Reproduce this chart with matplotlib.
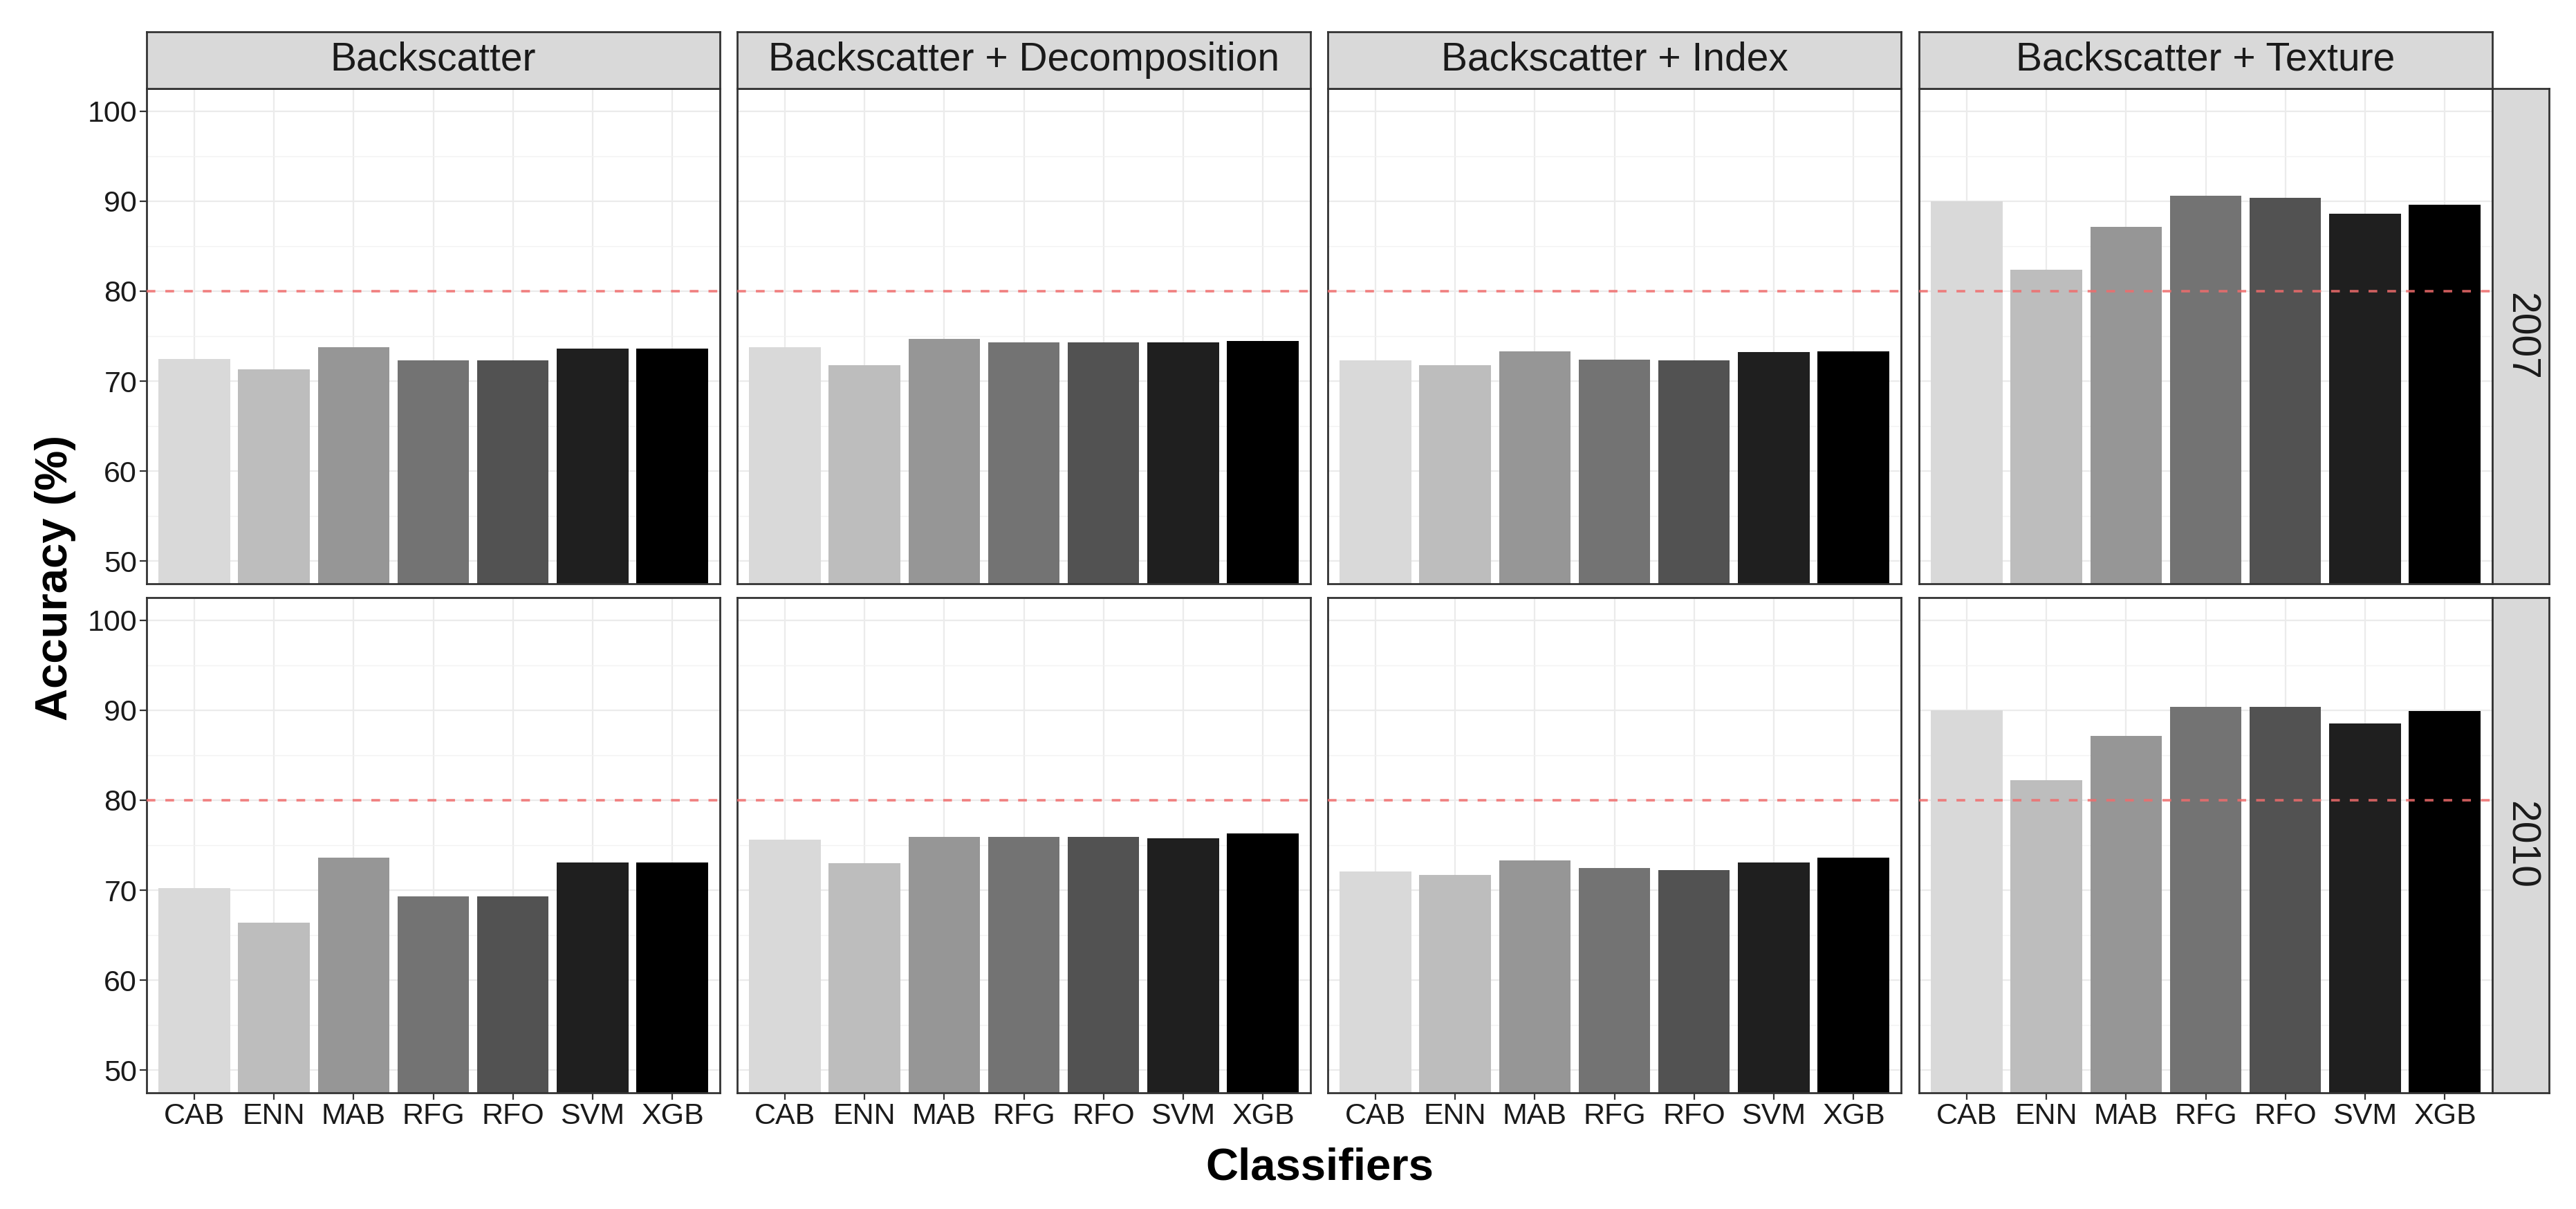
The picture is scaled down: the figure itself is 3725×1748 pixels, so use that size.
import matplotlib
matplotlib.use("Agg")
import matplotlib.pyplot as plt
from matplotlib.ticker import MultipleLocator

plt.rcParams['font.family'] = ['Liberation Sans', 'DejaVu Sans']

# data
classifiers = ['CAB', 'ENN', 'MAB', 'RFG', 'RFO', 'SVM', 'XGB']
feature_sets = ['Backscatter', 'Backscatter + Decomposition',
                'Backscatter + Index', 'Backscatter + Texture']
years = ['2007', '2010']

acc_2007_backscatter = [72.5, 71.3, 73.8, 72.3, 72.3, 73.6, 73.6]
acc_2007_decomposition = [73.8, 71.8, 74.7, 74.3, 74.3, 74.3, 74.5]
acc_2007_index = [72.3, 71.8, 73.3, 72.4, 72.3, 73.2, 73.3]
acc_2007_texture = [90.0, 82.4, 87.1, 90.6, 90.4, 88.6, 89.6]

acc_2010_backscatter = [70.2, 66.4, 73.6, 69.3, 69.3, 73.1, 73.1]
acc_2010_decomposition = [75.6, 73.0, 75.9, 75.9, 75.9, 75.8, 76.3]
acc_2010_index = [72.1, 71.7, 73.3, 72.5, 72.2, 73.1, 73.6]
acc_2010_texture = [90.0, 82.2, 87.1, 90.4, 90.4, 88.5, 89.9]

threshold = 80

bar_colors = ['#d9d9d9', '#bdbdbd', '#969696', '#737373',
              '#525252', '#1f1f1f', '#000000']

rows = [
    [acc_2007_backscatter, acc_2007_decomposition, acc_2007_index, acc_2007_texture],
    [acc_2010_backscatter, acc_2010_decomposition, acc_2010_index, acc_2010_texture],
]

W, H = 3725, 1748
fig = plt.figure(figsize=(W / 100, H / 100), dpi=100)


def box(x0, y0, x1, y1):
    # pixel box (top-left origin) -> figure fraction rect
    return [x0 / W, 1 - y1 / H, (x1 - x0) / W, (y1 - y0) / H]


border = '#333333'
col_left = [212, 1066, 1920, 2775]
panel_w = 829
strip_top, strip_bot = 46, 128
row_tops = [128, 864]
panel_h = 716
rstrip_w = 82

x = list(range(1, len(classifiers) + 1))

for r in range(2):
    for c in range(4):
        x0 = col_left[c]
        y0 = row_tops[r]
        ax = fig.add_axes(box(x0, y0, x0 + panel_w, y0 + panel_h))
        ax.bar(x, rows[r][c], width=0.9, color=bar_colors, zorder=2)
        ax.axhline(threshold, color='#f06c6c', alpha=0.85, lw=2.6,
                   dashes=(3.5, 4), zorder=3)
        ax.set_xlim(0.4, 7.6)
        ax.set_ylim(47.5, 102.5)
        ax.yaxis.set_major_locator(MultipleLocator(10))
        ax.yaxis.set_minor_locator(MultipleLocator(5))
        ax.set_xticks(x)
        ax.grid(which='major', color='#ebebeb', lw=1.6, zorder=0)
        ax.grid(which='minor', axis='y', color='#f2f2f2', lw=1.0, zorder=0)
        ax.set_axisbelow(True)
        for s in ax.spines.values():
            s.set_color(border)
            s.set_linewidth(2.0)
        ax.tick_params(which='minor', length=0)
        ax.tick_params(which='major', length=7, width=1.6, color=border,
                       labelsize=31, labelcolor='#1a1a1a', pad=3)
        if c == 0:
            ax.set_yticks([50, 60, 70, 80, 90, 100])
        else:
            ax.tick_params(axis='y', left=False, labelleft=False)
        if r == 1:
            ax.set_xticklabels(classifiers)
        else:
            ax.tick_params(axis='x', bottom=False, labelbottom=False)

        # column strips
        if r == 0:
            sa = fig.add_axes(box(x0, strip_top, x0 + panel_w, strip_bot))
            sa.set_facecolor('#d9d9d9')
            sa.set_xticks([])
            sa.set_yticks([])
            for s in sa.spines.values():
                s.set_color(border)
                s.set_linewidth(2.0)
            sa.text(0.5, 0.5, feature_sets[c], ha='center', va='center',
                    fontsize=41, color='#1a1a1a', transform=sa.transAxes)

    # row strip
    xs = col_left[3] + panel_w
    ra = fig.add_axes(box(xs, row_tops[r], xs + rstrip_w, row_tops[r] + panel_h))
    ra.set_facecolor('#d9d9d9')
    ra.set_xticks([])
    ra.set_yticks([])
    for s in ra.spines.values():
        s.set_color(border)
        s.set_linewidth(2.0)
    ra.text(0.5, 0.5, years[r], ha='center', va='center', rotation=270,
            fontsize=41, color='#1a1a1a', transform=ra.transAxes)

fig.text(80 / W, 1 - 835 / H, 'Accuracy (%)', rotation=90, ha='center',
         va='center', fontsize=47, fontweight='bold')
fig.text(1908 / W, 1 - 1688 / H, 'Classifiers', ha='center', va='center',
         fontsize=47, fontweight='bold')

fig.savefig('out.png', dpi=100, facecolor='white')
